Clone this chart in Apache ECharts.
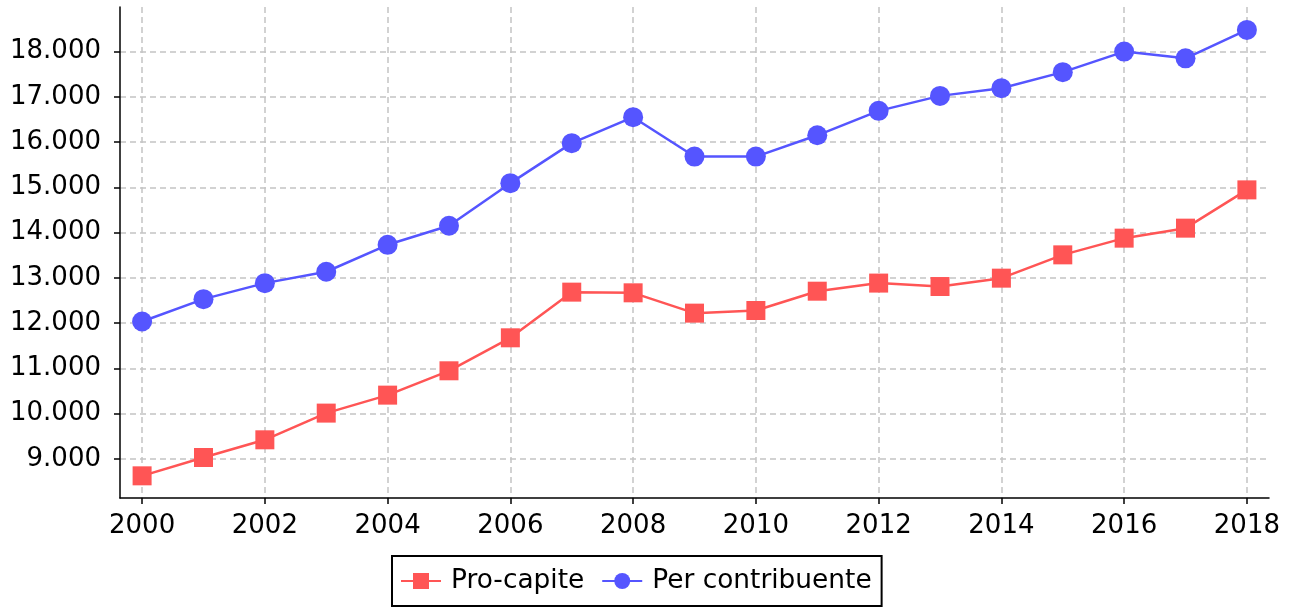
<!DOCTYPE html>
<html>
<head>
<meta charset="utf-8">
<script src="https://cdn.jsdelivr.net/npm/echarts@6/dist/echarts.min.js"></script>
<style>
html,body{margin:0;padding:0;background:#fff;}
#chart{width:1299px;height:608px;}
</style>
</head>
<body>
<div id="chart"></div>
<script>
const years = [2000,2001,2002,2003,2004,2005,2006,2007,2008,2009,2010,2011,2012,2013,2014,2015,2016,2017,2018];
const proCapite = [8625,9030,9421,10011,10408,10946,11675,12684,12669,12220,12278,12705,12884,12808,12993,13508,13877,14098,14944];
const perContribuente = [12035,12529,12883,13135,13730,14150,15092,15976,16550,15680,15680,16150,16690,17021,17191,17545,18000,17850,18479];
const xTicks = [2000,2002,2004,2006,2008,2010,2012,2014,2016,2018];
const yTicks = [9000,10000,11000,12000,13000,14000,15000,16000,17000,18000];
const seriesNames = ['Pro-capite','Per contribuente'];

const font = 'DejaVu Sans';
function fmtThousands(v){
  return String(Math.round(v)).replace(/\B(?=(\d{3})+(?!\d))/g,'.');
}
const chart = echarts.init(document.getElementById('chart'));
chart.setOption({
  animation:false,
  backgroundColor:'#fff',
  grid:{left:120,right:30,top:7,bottom:110,containLabel:false},
  legend:{
    data:seriesNames,
    left:392, bottom:2,
    orient:'horizontal',
    borderColor:'#000', borderWidth:2, borderRadius:0,
    padding:[12,10,12,8],
    itemWidth:40, itemHeight:20, itemGap:17,
    textStyle:{fontFamily:font,fontSize:26.4,color:'#000',padding:[0,0,0,5]}
  },
  xAxis:{
    type:'value',
    min:1999.64, max:2018.36,
    axisLine:{show:true,onZero:false,lineStyle:{color:'#000',width:1.5}},
    axisTick:{show:true,length:6,lineStyle:{color:'#000',width:1.5},customValues:xTicks},
    axisLabel:{customValues:xTicks,fontFamily:font,fontSize:26,color:'#000',margin:15,formatter:v=>String(v)},
    splitLine:{show:true,lineStyle:{color:'#c4c4c4',type:[6,4],width:1.5}}
  },
  yAxis:{
    type:'value',
    min:8135, max:18985,
    axisLine:{show:true,onZero:false,lineStyle:{color:'#000',width:1.5}},
    axisTick:{show:true,length:6,lineStyle:{color:'#000',width:1.5},customValues:yTicks},
    axisLabel:{customValues:yTicks,fontFamily:font,fontSize:26,color:'#000',margin:19,formatter:v=>fmtThousands(v)},
    splitLine:{show:true,lineStyle:{color:'#c4c4c4',type:[6,4],width:1.5}}
  },
  series:[
    {
      name:seriesNames[0], type:'line',
      data:years.map((y,i)=>[y,proCapite[i]]),
      symbol:'rect', symbolSize:19,
      itemStyle:{color:'#ff5555'},
      lineStyle:{color:'#ff5555',width:2.5}
    },
    {
      name:seriesNames[1], type:'line',
      data:years.map((y,i)=>[y,perContribuente[i]]),
      symbol:'circle', symbolSize:20,
      itemStyle:{color:'#5555ff'},
      lineStyle:{color:'#5555ff',width:2.5}
    }
  ]
});
</script>
</body>
</html>
